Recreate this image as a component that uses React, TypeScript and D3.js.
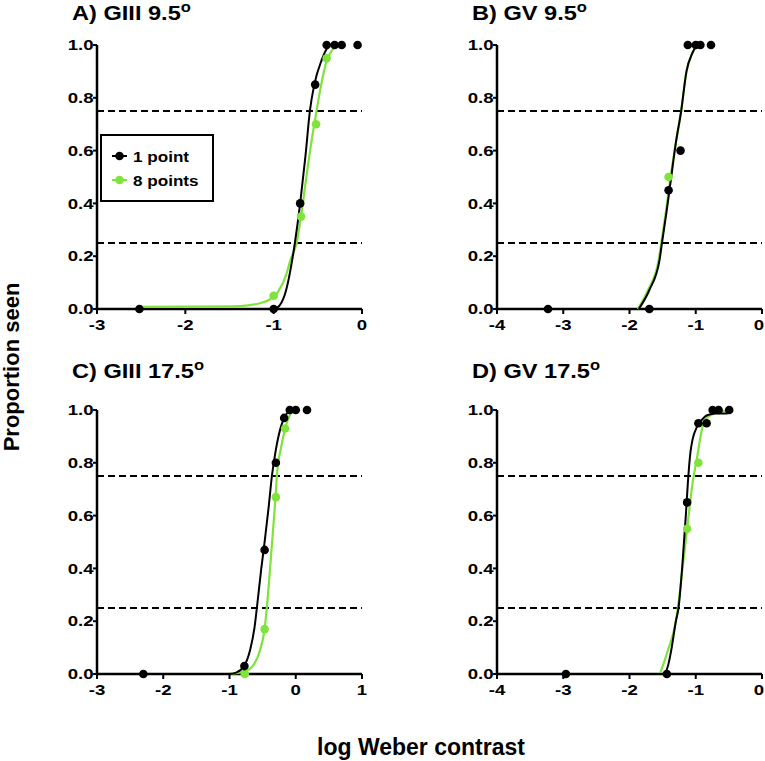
import React from "react";
import * as d3 from "d3";

// ---------- data ----------
const panelTitles = ["A) GIII 9.5", "B) GV 9.5", "C) GIII 17.5", "D) GV 17.5"];
const xDomains: [number, number][] = [[-3, 0], [-4, 0], [-3, 1], [-4, 0]];
const yTicks = [0, 0.2, 0.4, 0.6, 0.8, 1.0];
const thresholds = [0.25, 0.75];
const seriesNames = ["1 point", "8 points"];
const xAxisLabel = "log Weber contrast";
const yAxisLabel = "Proportion seen";

// observed points [log contrast, proportion seen]
const onePointA = [[-2.52, 0], [-1.0, 0], [-0.70, 0.40], [-0.53, 0.85], [-0.40, 1], [-0.31, 1], [-0.23, 1], [-0.05, 1]];
const eightPointsA = [[-1.0, 0.05], [-0.69, 0.35], [-0.52, 0.70], [-0.40, 0.95]];
const onePointB = [[-3.23, 0], [-1.70, 0], [-1.41, 0.45], [-1.23, 0.6], [-1.12, 1], [-1.0, 1], [-0.93, 1], [-0.77, 1]];
const eightPointsB = [[-1.41, 0.5]];
const onePointC = [[-2.30, 0], [-0.775, 0.03], [-0.47, 0.47], [-0.30, 0.80], [-0.175, 0.97], [-0.09, 1], [0.0, 1], [0.17, 1]];
const eightPointsC = [[-0.77, 0], [-0.47, 0.17], [-0.30, 0.67], [-0.16, 0.93]];
const onePointD = [[-2.96, 0], [-1.436, 0], [-1.13, 0.65], [-0.96, 0.95], [-0.836, 0.95], [-0.745, 1], [-0.655, 1], [-0.495, 1]];
const eightPointsD = [[-1.13, 0.55], [-0.96, 0.80]];

// fitted curves
const fitOneA = [[-2.52, 0], [-1.0, 0], [-0.93, 0.015], [-0.86, 0.07], [-0.79, 0.186], [-0.76, 0.25], [-0.70, 0.40], [-0.64, 0.58], [-0.59, 0.75], [-0.54, 0.85], [-0.46, 0.94], [-0.40, 0.985], [-0.35, 1.0], [-0.25, 1.0]];
const fitEightA = [[-2.52, 0.008], [-2.0, 0.009], [-1.38, 0.011], [-1.155, 0.022], [-1.04, 0.037], [-0.95, 0.065], [-0.853, 0.135], [-0.81, 0.186], [-0.74, 0.25], [-0.69, 0.35], [-0.63, 0.5], [-0.56, 0.66], [-0.515, 0.75], [-0.45, 0.87], [-0.40, 0.94], [-0.34, 0.98], [-0.28, 1.0]];
const fitOneB = [[-1.86, 0], [-1.70, 0.072], [-1.546, 0.186], [-1.51, 0.25], [-1.44, 0.37], [-1.37, 0.5], [-1.30, 0.63], [-1.22, 0.75], [-1.14, 0.9], [-1.05, 0.97], [-0.98, 1.0]];
const fitEightB = [[-1.875, 0], [-1.72, 0.072], [-1.56, 0.186], [-1.52, 0.25], [-1.45, 0.37], [-1.38, 0.5], [-1.30, 0.63], [-1.22, 0.75], [-1.14, 0.9], [-1.05, 0.97], [-0.98, 1.0]];
const fitOneC = [[-2.3, 0], [-1.0, 0], [-0.9, 0.005], [-0.78, 0.03], [-0.69, 0.09], [-0.62, 0.18], [-0.587, 0.25], [-0.52, 0.40], [-0.47, 0.50], [-0.41, 0.63], [-0.36, 0.75], [-0.30, 0.85], [-0.22, 0.94], [-0.14, 0.985], [-0.08, 1.0]];
const fitEightC = [[-1.04, 0], [-0.9, 0.003], [-0.77, 0.01], [-0.65, 0.03], [-0.54, 0.09], [-0.47, 0.17], [-0.437, 0.25], [-0.36, 0.49], [-0.30, 0.69], [-0.285, 0.75], [-0.22, 0.86], [-0.16, 0.93], [-0.08, 0.985], [-0.03, 1.0]];
const fitOneD = [[-2.96, 0], [-1.48, 0], [-1.42, 0.03], [-1.37, 0.09], [-1.30, 0.2], [-1.26, 0.25], [-1.20, 0.42], [-1.15, 0.60], [-1.12, 0.72], [-1.08, 0.84], [-1.05, 0.886], [-0.98, 0.937], [-0.9, 0.965], [-0.83, 0.98], [-0.7, 0.987], [-0.52, 0.987]];
const fitEightD = [[-1.54, 0], [-1.42, 0.09], [-1.30, 0.2], [-1.26, 0.27], [-1.2, 0.40], [-1.13, 0.55], [-1.05, 0.72], [-0.98, 0.82], [-0.92, 0.91], [-0.875, 0.955], [-0.78, 0.98], [-0.675, 0.99], [-0.52, 1.0]];

const onePointSets = [onePointA, onePointB, onePointC, onePointD];
const eightPointSets = [eightPointsA, eightPointsB, eightPointsC, eightPointsD];
const oneFits = [fitOneA, fitOneB, fitOneC, fitOneD];
const eightFits = [fitEightA, fitEightB, fitEightC, fitEightD];

// ---------- layout / style ----------
const W = 765, H = 761;
const BLACK = "#000";
const GREEN = "#80e23c";
const FONT = "'Liberation Sans', Arial, Helvetica, sans-serif";
const SX = 1.18; // panel text horizontal stretch
const TSX = 1.24; // tick label stretch
const TFS = 15; // tick font size
const panelBoxes = [
  { x0: 97, x1: 362, yTop: 45, yBot: 309, tx: 72, ty: 20 },
  { x0: 497, x1: 762, yTop: 45, yBot: 309, tx: 472, ty: 20 },
  { x0: 97, x1: 362, yTop: 410, yBot: 674, tx: 72, ty: 378 },
  { x0: 497, x1: 762, yTop: 410, yBot: 674, tx: 472, ty: 378 },
];

function Panel({ i }: { i: number }) {
  const b = panelBoxes[i];
  const dom = xDomains[i];
  const x = d3.scaleLinear().domain(dom).range([b.x0, b.x1]);
  const y = d3.scaleLinear().domain([0, 1]).range([b.yBot, b.yTop]);
  const xTicks = d3.range(dom[0], dom[1] + 1, 1);
  const line = d3.line<number[]>().x((d) => x(d[0])).y((d) => y(d[1])).curve(d3.curveMonotoneX);
  return (
    <g>
      <text transform={`translate(${b.tx},${b.ty}) scale(${SX},1)`} fontFamily={FONT} fontWeight="bold" fontSize={20}>
        {panelTitles[i]}
        <tspan dy={-8} fontSize={14}>o</tspan>
      </text>
      {thresholds.map((t) => (
        <line key={t} x1={b.x0} x2={b.x1} y1={y(t)} y2={y(t)} stroke={BLACK} strokeWidth={2} strokeDasharray="7,4" />
      ))}
      {/* y axis */}
      <line x1={b.x0} x2={b.x0} y1={y(0)} y2={y(1)} stroke={BLACK} strokeWidth={2.5} />
      {yTicks.map((t) => (
        <g key={t}>
          <line x1={b.x0 - 4} x2={b.x0} y1={y(t)} y2={y(t)} stroke={BLACK} strokeWidth={2} />
          <text transform={`translate(${b.x0 - 3.5},${y(t) + 5.2}) scale(${TSX},1)`} textAnchor="end" fontFamily={FONT} fontWeight="bold" fontSize={TFS}>
            {t.toFixed(1)}
          </text>
        </g>
      ))}
      {/* x axis */}
      <line x1={b.x0} x2={b.x1} y1={b.yBot} y2={b.yBot} stroke={BLACK} strokeWidth={2.5} />
      {xTicks.map((t) => {
        const tx = x(t);
        const nearEdge = tx + 6 > W;
        return (
          <g key={t}>
            <line x1={tx} x2={tx} y1={b.yBot} y2={b.yBot + 5} stroke={BLACK} strokeWidth={2} />
            <text
              transform={`translate(${nearEdge ? W - 1 : tx},${b.yBot + 21}) scale(${TSX},1)`}
              textAnchor={nearEdge ? "end" : "middle"}
              fontFamily={FONT}
              fontWeight="bold"
              fontSize={TFS}
            >
              {t}
            </text>
          </g>
        );
      })}
      <path d={line(eightFits[i] as number[][]) || ""} fill="none" stroke={GREEN} strokeWidth={2.2} />
      <path d={line(oneFits[i] as number[][]) || ""} fill="none" stroke={BLACK} strokeWidth={2} />
      {eightPointSets[i].map((p, k) => (
        <circle key={"g" + k} cx={x(p[0])} cy={y(p[1])} r={4.3} fill={GREEN} />
      ))}
      {onePointSets[i].map((p, k) => (
        <circle key={"b" + k} cx={x(p[0])} cy={y(p[1])} r={4.3} fill={BLACK} />
      ))}
    </g>
  );
}

function Legend() {
  const bx = 101, by = 135, bw = 112, bh = 66;
  const rows = [
    { name: seriesNames[0], color: BLACK, cy: 156 },
    { name: seriesNames[1], color: GREEN, cy: 180 },
  ];
  return (
    <g>
      <rect x={bx} y={by} width={bw} height={bh} fill="#fff" stroke={BLACK} strokeWidth={2} />
      {rows.map((r) => (
        <g key={r.name}>
          <line x1={112} x2={127} y1={r.cy} y2={r.cy} stroke={r.color} strokeWidth={2} />
          <circle cx={119.5} cy={r.cy} r={4.3} fill={r.color} />
          <text transform={`translate(133,${r.cy + 5.5}) scale(${SX},1)`} fontFamily={FONT} fontWeight="bold" fontSize={14.5}>
            {r.name}
          </text>
        </g>
      ))}
    </g>
  );
}

export default function App() {
  return (
    <svg width={W} height={H} viewBox={`0 0 ${W} ${H}`} style={{ position: "absolute", left: 0, top: 0, background: "#fff" }}>
      <rect x={0} y={0} width={W} height={H} fill="#fff" />
      {[0, 1, 2, 3].map((i) => (
        <Panel key={i} i={i} />
      ))}
      <Legend />
      <text transform="translate(19,367) rotate(-90)" textAnchor="middle" fontFamily={FONT} fontWeight="bold" fontSize={22}>
        {yAxisLabel}
      </text>
      <text x={421} y={755} textAnchor="middle" fontFamily={FONT} fontWeight="bold" fontSize={23}>
        {xAxisLabel}
      </text>
    </svg>
  );
}
